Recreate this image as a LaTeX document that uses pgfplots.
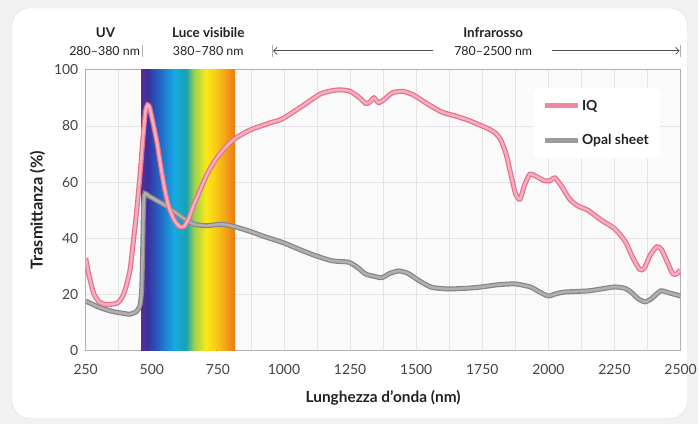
\documentclass[border=0pt]{standalone}
\usepackage{fontspec}
\setmainfont{Lato}
\usepackage{pgfplots}
\pgfplotsset{compat=1.18}
\usetikzlibrary{arrows.meta}

\definecolor{pageout}{HTML}{F1F1F1}
\definecolor{cardedge}{HTML}{DDDDDD}
\definecolor{plotbg}{HTML}{FAFAFA}
\definecolor{gridc}{HTML}{E4E4E6}
\definecolor{axisc}{HTML}{B0B0B0}
\definecolor{txt}{HTML}{222222}
\definecolor{iqedge}{HTML}{E4708C}
\definecolor{iqcore}{HTML}{F6AEBF}
\definecolor{iqleg}{HTML}{F0899F}
\definecolor{opedge}{HTML}{858585}
\definecolor{opcore}{HTML}{B0B0B0}
\definecolor{opleg}{HTML}{9C9C9C}

% spectrum colours
\definecolor{s1}{HTML}{5A2C90}
\definecolor{s2}{HTML}{3A32A0}
\definecolor{s3}{HTML}{2466C4}
\definecolor{s4}{HTML}{16AAE4}
\definecolor{s5}{HTML}{17A2B0}
\definecolor{s6}{HTML}{9CD050}
\definecolor{s7}{HTML}{FAE818}
\definecolor{s8}{HTML}{F9C814}
\definecolor{s9}{HTML}{F49A1A}
\definecolor{s10}{HTML}{EE7A10}

\pgfplotstableread{
x y
250 33
262 27
280 20.5
300 17.5
320 16.5
345 16.5
370 17
388 19
405 23.5
418 29
428 37
442 49
455 62
466 75
476 85
484 87.5
492 86.5
505 81
520 74
535 65
550 57
565 51
585 46.5
605 44.2
622 44.2
640 47
655 51
680 56.5
710 63
745 68.5
780 72.5
815 75.5
870 78.5
944 81
993 82.5
1068 87
1140 91.5
1200 92.8
1245 92.5
1280 90.5
1309 88
1325 88.5
1340 90
1358 88.3
1380 89.5
1410 91.8
1450 92.3
1490 91
1540 88
1596 85
1650 83.5
1698 82
1773 79
1799 77.5
1820 75
1840 70
1860 62
1877 55.5
1893 54
1910 59
1930 62.8
1955 62
1985 60.5
2005 60.5
2025 61.5
2050 58.5
2080 54
2112 51.5
2150 50
2200 46.5
2250 43.5
2290 39
2320 33
2345 29
2362 29.3
2385 34
2410 37
2428 36
2450 31.5
2470 27.5
2485 27.3
2500 28.8
}\iqdata

\pgfplotstableread{
x y
250 17.7
300 15.5
350 14
400 13.2
416 13
440 13.8
455 16
462 22
466 38
469 52
474 56
490 55
555 51.5
600 48.5
630 46.5
660 45
706 44.5
760 45
800 44.5
868 42.6
930 40.5
993 38.6
1060 36
1120 33.8
1183 32
1245 31.5
1280 29.5
1309 27.3
1340 26.5
1370 26
1400 27.5
1434 28.4
1470 27.5
1510 25
1558 22.6
1622 22
1700 22.3
1747 22.7
1810 23.5
1873 23.8
1910 23.2
1935 22.6
1965 21
1999 19.5
2030 20.3
2063 20.9
2150 21.3
2200 22
2252 22.7
2290 22.2
2312 20.9
2340 18.5
2365 17.4
2390 18.5
2425 21.3
2460 20.5
2500 19.5
}\opaldata

\begin{document}
\begin{tikzpicture}[x=1bp,y=1bp]
\fill[pageout] (0,0) rectangle (700,426);
\fill[white, draw=cardedge, rounded corners=18bp] (12,6) rectangle (690,418);

\begin{axis}[
  at={(86bp,74bp)}, anchor=south west,
  width=597bp, height=282bp, scale only axis,
  xmin=250, xmax=2500, ymin=0, ymax=100,
  xtick={250,500,...,2500},
  ytick={0,20,...,100},
  minor x tick num=1,
  grid=both,
  major grid style={gridc, line width=0.6bp},
  minor grid style={gridc, line width=0.6bp},
  major tick length=0pt, minor tick length=0pt,
  axis line style={axisc, line width=0.8bp},
  axis background/.style={fill=plotbg},
  scaled x ticks=false,
  /pgf/number format/assume math mode=true,
  /pgf/number format/1000 sep={},
  tick label style={font=\fontsize{14}{16}\selectfont, text=txt!85},
  xticklabel style={yshift=-10bp},
  yticklabel style={xshift=-4bp},
  xlabel={Lunghezza d’onda (nm)},
  ylabel={Trasmittanza (\%)},
  xlabel style={font=\bfseries\fontsize{15.5}{18}\selectfont, text=txt, yshift=-9bp},
  ylabel style={font=\bfseries\fontsize{16.5}{19}\selectfont, text=txt, yshift=2bp},
  legend image code/.code={\draw[#1] (0bp,0bp) -- (33bp,0bp);},
  legend style={at={(0.752,0.936)}, anchor=north west, draw=none,
    fill=white, rounded corners=6bp, inner xsep=9bp, inner ysep=10bp,
    row sep=19bp, font=\bfseries\fontsize{14}{16}\selectfont, text=txt,
    /tikz/every even column/.append style={column sep=12bp}},
  legend cell align=left,
]

% visible spectrum band
\fill[left color=s1, right color=s2] (axis cs:461,0) rectangle (axis cs:485,100);
\fill[left color=s2, right color=s3] (axis cs:484.5,0) rectangle (axis cs:530,100);
\fill[left color=s3, right color=s4] (axis cs:529.5,0) rectangle (axis cs:585,100);
\fill[left color=s4, right color=s5] (axis cs:584.5,0) rectangle (axis cs:630,100);
\fill[left color=s5, right color=s6] (axis cs:629.5,0) rectangle (axis cs:660,100);
\fill[left color=s6, right color=s7] (axis cs:659.5,0) rectangle (axis cs:705,100);
\fill[left color=s7, right color=s8] (axis cs:704.5,0) rectangle (axis cs:745,100);
\fill[left color=s8, right color=s9] (axis cs:744.5,0) rectangle (axis cs:785,100);
\fill[left color=s9, right color=s10] (axis cs:784.5,0) rectangle (axis cs:815,100);

\addplot[opedge, line width=5bp, smooth, tension=0.4, forget plot] table {\opaldata};
\addplot[opcore, line width=2.6bp, smooth, tension=0.4, forget plot] table {\opaldata};
\addplot[iqedge, line width=5bp, smooth, tension=0.4, forget plot] table {\iqdata};
\addplot[iqcore, line width=2.6bp, smooth, tension=0.4, forget plot] table {\iqdata};

\addlegendimage{iqleg, line width=5bp}
\addlegendentry{IQ}
\addlegendimage{opleg, line width=5bp}
\addlegendentry{Opal sheet}
\end{axis}

% header
\begin{scope}[font=\fontsize{12.5}{14}\selectfont, text=txt]
\node[font=\bfseries\fontsize{13.5}{15}\selectfont] at (106,393) {UV};
\node at (105,375) {280–380 nm};
\draw[axisc, line width=0.8bp] (143,369) -- (143,381);
\node[font=\bfseries\fontsize{13.5}{15}\selectfont] at (209,393) {Luce visibile};
\node at (209,375) {380–780 nm};
\draw[axisc, line width=0.8bp] (273,369) -- (273,381);
\draw[txt!80, line width=0.7bp, -{Straight Barb[length=3.5bp]}] (435,375) -- (274,375);
\node[font=\bfseries\fontsize{13.5}{15}\selectfont] at (495,393) {Infrarosso};
\node at (495,375) {780–2500 nm};
\draw[txt!80, line width=0.7bp, -{Straight Barb[length=3.5bp]}] (554,375) -- (682,375);
\draw[axisc, line width=0.8bp] (683,369) -- (683,381);
\end{scope}
\end{tikzpicture}
\end{document}
